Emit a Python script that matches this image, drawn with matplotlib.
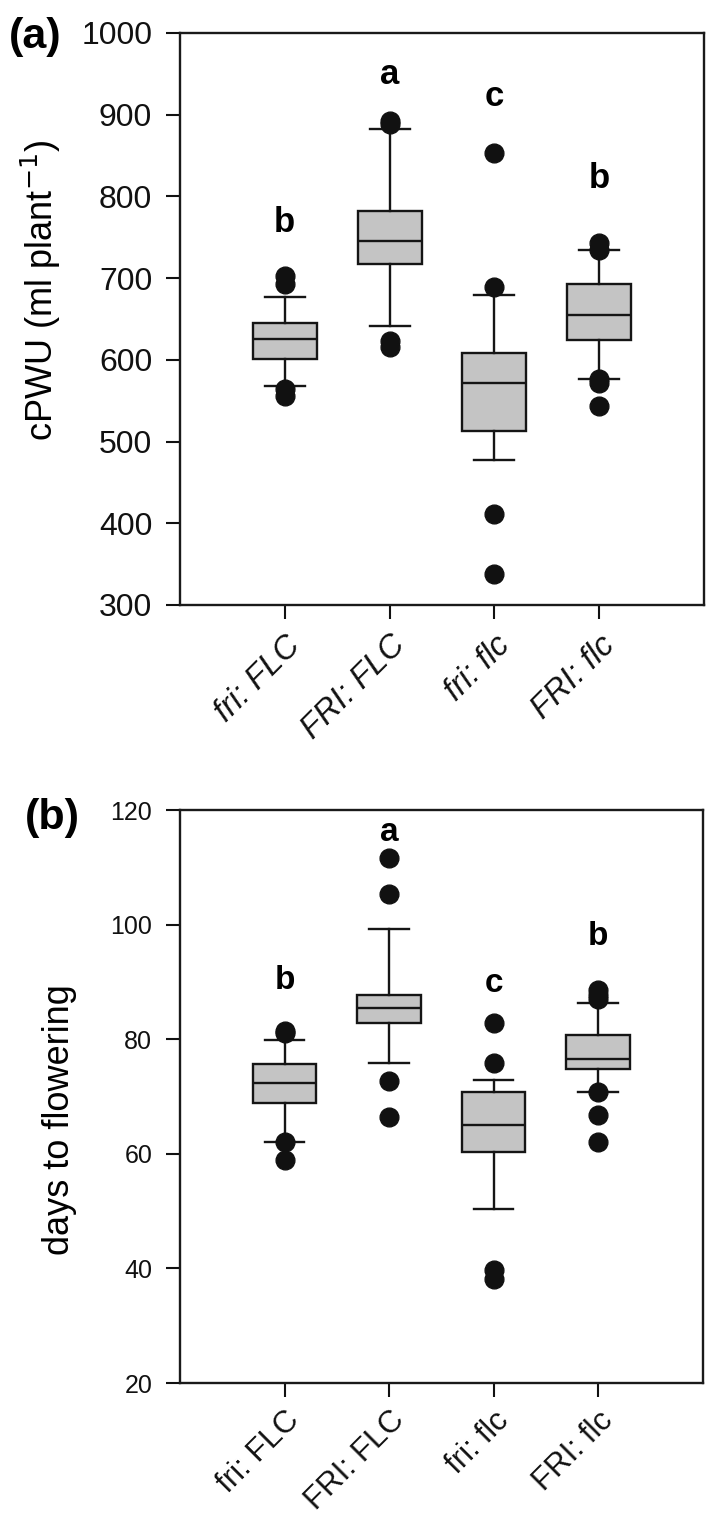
import matplotlib
matplotlib.use("Agg")
import matplotlib.pyplot as plt

plt.rcParams['font.family'] = ['Liberation Sans', 'DejaVu Sans']

groups = ['fri: FLC', 'FRI: FLC', 'fri: flc', 'FRI: flc']

# Panel (a): cPWU
cpwu_q1 = [601, 717, 513, 624]
cpwu_med = [626, 746, 572, 655]
cpwu_q3 = [645, 782, 608, 693]
cpwu_whislo = [568, 642, 477, 576]
cpwu_whishi = [677, 883, 679, 734]
cpwu_fliers = [[703, 693, 564, 556],
               [892, 889, 623, 616],
               [853, 689, 411, 338],
               [743, 734, 576, 572, 543]]
cpwu_letters = ['b', 'a', 'c', 'b']
cpwu_letter_y = [768, 949, 922, 822]

# Panel (b): days to flowering
days_q1 = [68.8, 82.9, 60.3, 74.8]
days_med = [72.4, 85.4, 65.0, 76.5]
days_q3 = [75.6, 87.7, 70.8, 80.7]
days_whislo = [62.0, 75.8, 50.4, 70.8]
days_whishi = [79.9, 99.2, 72.9, 86.4]
days_fliers = [[81.5, 81.0, 62.1, 58.9],
               [111.6, 105.3, 72.7, 66.5],
               [82.8, 75.8, 39.8, 38.2],
               [88.6, 87.7, 87.0, 70.8, 66.8, 62.1]]
days_letters = ['b', 'a', 'c', 'b']
days_letter_y = [90.3, 116.0, 89.8, 97.9]

fig = plt.figure(figsize=(7.09, 15.2), dpi=100)
ax1 = fig.add_axes([0.2539, 0.602, 0.739, 0.3763])
ax2 = fig.add_axes([0.2539, 0.0901, 0.737, 0.377])

box_face = '#c4c4c4'
edge = '#151515'


def draw(ax, q1, med, q3, lo, hi, fl, letters, ly, ylim, yticks, ylabel,
         tick_fs, lab_fs, letter_fs, italic, panel, panel_xy, xfs, xpad):
    stats = []
    for i in range(len(groups)):
        stats.append(dict(q1=q1[i], med=med[i], q3=q3[i], whislo=lo[i],
                          whishi=hi[i], fliers=fl[i], label=groups[i]))
    pos = list(range(1, len(groups) + 1))
    ax.bxp(stats, positions=pos, widths=0.61, patch_artist=True,
           showfliers=True,
           boxprops=dict(facecolor=box_face, edgecolor=edge, linewidth=1.7),
           medianprops=dict(color=edge, linewidth=1.7),
           whiskerprops=dict(color=edge, linewidth=1.7),
           capprops=dict(color=edge, linewidth=1.7),
           capwidths=0.38,
           flierprops=dict(marker='o', markerfacecolor='#111111',
                           markeredgecolor='#111111', markersize=13.5))
    ax.set_xlim(0, 5)
    ax.set_ylim(*ylim)
    ax.set_yticks(yticks)
    ax.set_xticks(pos)
    ax.set_xticklabels(groups, rotation=45, ha='right', va='top',
                       rotation_mode='anchor', fontsize=xfs,
                       fontstyle='italic' if italic else 'normal')
    ax.tick_params(axis='y', direction='out', length=10, width=1.5,
                   labelsize=tick_fs, pad=10, colors='#111111')
    ax.tick_params(axis='x', direction='out', length=10, width=1.5,
                   pad=xpad, colors='#111111')
    for s in ax.spines.values():
        s.set_linewidth(1.7)
        s.set_color('#1a1a1a')
    ax.set_ylabel(ylabel, fontsize=lab_fs)
    for i, (t, y) in enumerate(zip(letters, ly)):
        ax.text(pos[i], y, t, ha='center', va='center', fontsize=letter_fs,
                fontweight='bold')
    fig.text(panel_xy[0], panel_xy[1], panel, fontsize=31, fontweight='bold',
             ha='center', va='center')


draw(ax1, cpwu_q1, cpwu_med, cpwu_q3, cpwu_whislo, cpwu_whishi, cpwu_fliers,
     cpwu_letters, cpwu_letter_y, (300, 1000), range(300, 1001, 100),
     'cPWU (ml plant$^{-1}$)', 23, 26, 25, True, '(a)',
     (35 / 709, 1 - 37 / 1520), 23.5, 8)
draw(ax2, days_q1, days_med, days_q3, days_whislo, days_whishi, days_fliers,
     days_letters, days_letter_y, (20, 120), range(20, 121, 20),
     'days to flowering', 18, 26, 24, False, '(b)',
     (52 / 709, 1 - 818 / 1520), 22.5, 6)
ax1.yaxis.set_label_coords(-0.223, 0.55)
ax2.yaxis.set_label_coords(-0.197, 0.459)

fig.savefig('out.png', dpi=100)
